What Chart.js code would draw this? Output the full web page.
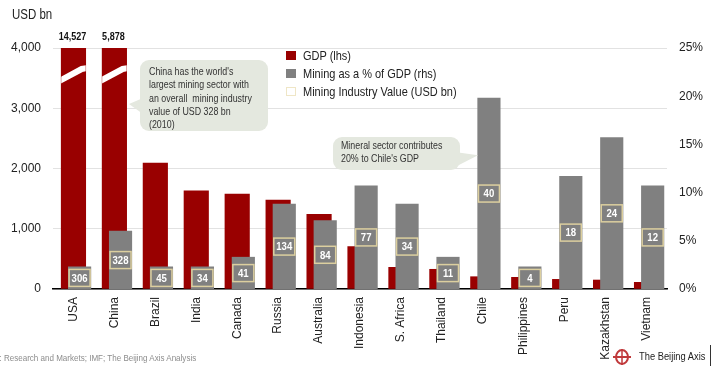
<!DOCTYPE html>
<html>
<head>
<meta charset="utf-8">
<script src="https://cdn.jsdelivr.net/npm/chart.js@4.4.1/dist/chart.umd.min.js"></script>
<style>
  body { margin: 0; background: #fff; }
  #wrap {
    position: relative; width: 715px; height: 367px; overflow: hidden;
    font-family: "Liberation Sans", Arial, sans-serif;
    color: #222;
  }
  #wrap canvas { position: absolute; left: 0; top: 0; }
  /* narrow lettering */
  .nar { display: inline-block; transform: scaleX(0.82); transform-origin: 0 0; white-space: nowrap; }
  .unit { position: absolute; left: 12px; top: 6px; font-size: 14px; }
  .legend { position: absolute; left: 286px; top: 47px; font-size: 13.4px; }
  .legend > div { position: relative; height: 18.2px; line-height: 18px; padding-left: 17px; white-space: nowrap; }
  .legend span.sw { position: absolute; left: 0; top: 4px; width: 10px; height: 9px; box-sizing: border-box; }
  .callout {
    position: absolute; background: #e4e8df; border-radius: 9px;
    font-size: 10.8px; line-height: 13.3px; color: #333; box-sizing: border-box;
  }
  .tip { position: absolute; background: #e4e8df; }
  .source { position: absolute; left: -26px; top: 352px; font-size: 9.8px; color: #8c8c8c; }
  .brand { position: absolute; left: 639px; top: 350px; font-size: 11.4px; color: #222; }
  .brand-bar { position: absolute; left: 710px; top: 345px; width: 1px; height: 21px; background: #333; }
  .brand-icon { position: absolute; left: 612px; top: 347px; }
</style>
</head>
<body>
<div id="wrap">
  <canvas id="chart" width="715" height="367"></canvas>
  <div class="unit"><span class="nar">USD bn</span></div>
  <div class="legend">
    <div><span class="sw" style="background:#990000"></span><span class="nar">GDP (lhs)</span></div>
    <div><span class="sw" style="background:#808080"></span><span class="nar">Mining as a % of GDP (rhs)</span></div>
    <div><span class="sw" style="border:1px solid #efe6c6"></span><span class="nar">Mining Industry Value (USD bn)</span></div>
  </div>

  <div class="tip" style="left:129px; top:98px; width:14px; height:16px; clip-path:polygon(100% 0, 0 38%, 100% 100%);"></div>
  <div class="callout" style="left:140px; top:60px; width:128px; height:71px; padding:5px 0 0 9px;">
    <span class="nar">China has the world's<br>largest mining sector with<br>an overall&nbsp; mining industry<br>value of USD 328 bn<br>(2010)</span>
  </div>

  <div class="tip" style="left:455px; top:152px; width:23px; height:15px; clip-path:polygon(0 0, 100% 22%, 0 100%);"></div>
  <div class="callout" style="left:333px; top:137px; width:127px; height:33px; padding:2px 0 0 8px;">
    <span class="nar">Mineral sector contributes<br>20% to Chile's GDP</span>
  </div>

  <div class="source"><span class="nar">Source: Research and Markets; IMF; The Beijing Axis Analysis</span></div>
  <svg class="brand-icon" width="20" height="20" viewBox="0 0 20 20">
    <ellipse cx="10" cy="10" rx="6" ry="7" fill="none" stroke="#c0393b" stroke-width="2"/>
    <line x1="1" y1="10" x2="19" y2="10" stroke="#c0393b" stroke-width="2"/>
    <line x1="10" y1="2" x2="10" y2="18" stroke="#c0393b" stroke-width="1.5"/>
  </svg>
  <div class="brand"><span class="nar">The Beijing Axis</span></div>
  <div class="brand-bar"></div>
</div>

<script>
const countries = ['USA', 'China', 'Brazil', 'India', 'Canada', 'Russia', 'Australia', 'Indonesia',
  'S. Africa', 'Thailand', 'Chile', 'Philippines', 'Peru', 'Kazakhstan', 'Vietnam'];
// GDP, USD bn (left axis)
const gdp = [14527, 5878, 2090, 1630, 1577, 1477, 1240, 706, 360, 327, 204, 194, 160, 149, 111];
// mining as % of GDP (right axis)
const miningShare = [2.3, 6.0, 2.3, 2.3, 3.3, 8.8, 7.1, 10.7, 8.8, 3.3, 19.8, 2.3, 11.7, 15.7, 10.7];
// mining industry value, USD bn
const miningValue = [306, 328, 45, 34, 41, 134, 84, 77, 34, 11, 40, 4, 18, 24, 12];

const gdpTicks = [0, 1000, 2000, 3000, 4000];
const shareTicks = [0, 5, 10, 15, 20, 25];

const FONT = '"Liberation Sans", Arial, sans-serif';
const red = '#990000';
const grey = '#808080';
const NARROW = 0.82;
// grey bars sit this many categories right of the red ones
const greyShift = 0.15;

function narrowText(ctx, text, x, y) {
  ctx.save();
  ctx.translate(x, y);
  ctx.scale(NARROW, 1);
  ctx.fillText(text, 0, 0);
  ctx.restore();
}

// white break stripe + value on top for bars taller than the axis, boxed values inside grey bars
const barDecor = {
  id: 'barDecor',
  afterDatasetsDraw(chart) {
    const ctx = chart.ctx;
    const area = chart.chartArea;
    const yMax = chart.scales.y.max;

    chart.getDatasetMeta(0).data.forEach((bar, i) => {
      if (gdp[i] <= yMax) return;
      const half = bar.width / 2;
      ctx.save();
      ctx.beginPath();
      ctx.rect(bar.x - half, area.top, bar.width, area.bottom - area.top);
      ctx.clip();
      ctx.strokeStyle = '#fff';
      ctx.lineWidth = 6;
      ctx.beginPath();
      ctx.moveTo(bar.x - half - 2, area.top + 33);
      ctx.lineTo(bar.x + half - 4, area.top + 21);
      ctx.lineTo(bar.x + half + 2, area.top + 20);
      ctx.stroke();
      ctx.restore();

      ctx.save();
      ctx.fillStyle = '#111';
      ctx.font = 'bold 11px ' + FONT;
      ctx.textAlign = 'center';
      ctx.textBaseline = 'middle';
      narrowText(ctx, gdp[i].toLocaleString('en-US'), bar.x - 1, area.top - 11);
      ctx.restore();
    });

    chart.getDatasetMeta(1).data.forEach((bar, i) => {
      const cy = (bar.y + bar.base) / 2;
      const w = 21, h = 17;
      ctx.save();
      ctx.fillStyle = grey;
      ctx.fillRect(bar.x - w / 2, cy - h / 2, w, h);
      ctx.strokeStyle = '#dccf9f';
      ctx.lineWidth = 1.5;
      ctx.strokeRect(bar.x - w / 2, cy - h / 2, w, h);
      ctx.fillStyle = '#fff';
      ctx.font = 'bold 11.7px ' + FONT;
      ctx.textAlign = 'center';
      ctx.textBaseline = 'middle';
      narrowText(ctx, String(miningValue[i]), bar.x, cy + 0.5);
      ctx.restore();
    });
  }
};

const tickFont = { family: FONT, size: 12 };

new Chart(document.getElementById('chart'), {
  type: 'bar',
  data: {
    labels: countries,
    datasets: [
      {
        label: 'GDP (lhs)',
        data: gdp,
        backgroundColor: red,
        xAxisID: 'x',
        yAxisID: 'y',
        grouped: false,
        barThickness: 24.5,
        order: 1
      },
      {
        label: 'Mining as a % of GDP (rhs)',
        data: miningShare.map((v, i) => ({ x: i, y: v })),
        backgroundColor: grey,
        xAxisID: 'x2',
        yAxisID: 'y2',
        grouped: false,
        barThickness: 22.5,
        order: 0
      }
    ]
  },
  options: {
    responsive: false,
    animation: false,
    layout: { padding: { top: 48, left: 0, right: 0, bottom: 0 } },
    plugins: {
      legend: { display: false },
      tooltip: { enabled: false }
    },
    scales: {
      x: {
        type: 'category',
        offset: true,
        grid: { display: false, drawTicks: false },
        border: { display: true, color: '#000', width: 1.5 },
        ticks: {
          autoSkip: false,
          minRotation: 90,
          maxRotation: 90,
          padding: 8,
          color: '#222',
          font: tickFont
        },
        afterFit: s => { s.height = 78; }
      },
      x2: {
        type: 'linear',
        display: false,
        offset: false,
        min: -0.5 - greyShift,
        max: countries.length - 0.5 - greyShift
      },
      y: {
        position: 'left',
        min: 0,
        max: 4000,
        afterBuildTicks: s => { s.ticks = gdpTicks.map(v => ({ value: v })); },
        ticks: {
          padding: 12,
          color: '#222',
          font: tickFont,
          callback: v => v.toLocaleString('en-US')
        },
        grid: { color: '#e2e2e2', lineWidth: 1, drawTicks: false },
        border: { display: false },
        afterFit: s => { s.width = 53; }
      },
      y2: {
        position: 'right',
        min: 0,
        max: 25,
        afterBuildTicks: s => { s.ticks = shareTicks.map(v => ({ value: v })); },
        ticks: {
          padding: 12,
          color: '#222',
          font: tickFont,
          callback: v => v + '%'
        },
        grid: { display: false, drawTicks: false },
        border: { display: false },
        afterFit: s => { s.width = 48; }
      }
    }
  },
  plugins: [barDecor]
});
</script>
</body>
</html>
